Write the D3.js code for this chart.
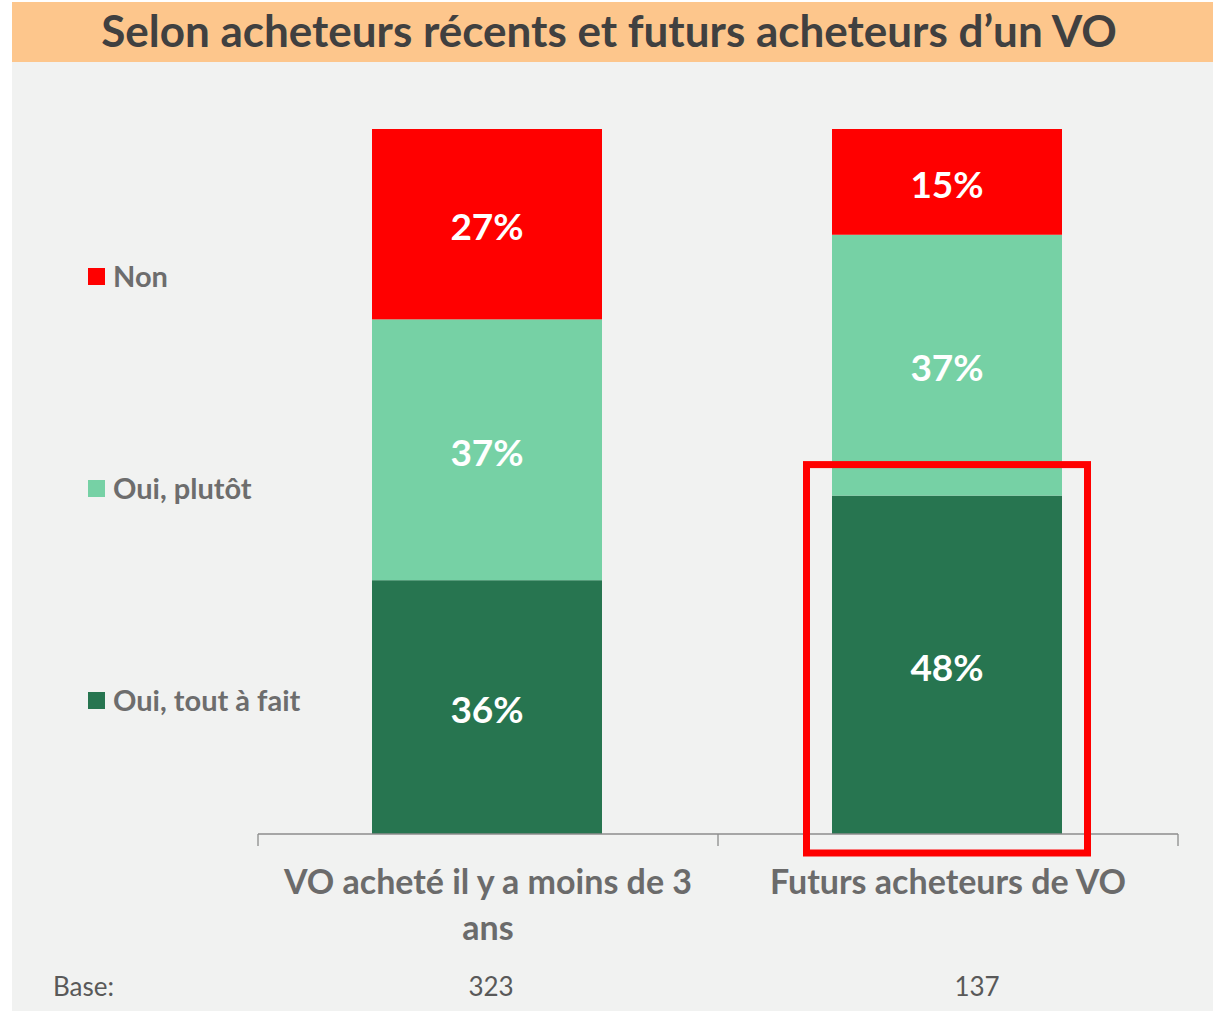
<!DOCTYPE html>
<html>
<head>
<meta charset="utf-8">
<script src="https://cdn.jsdelivr.net/npm/d3@7"></script>
<style>
  body { margin: 0; background: #fff; }
  svg { display: block; font-family: Lato, "Open Sans", sans-serif; }
</style>
</head>
<body>
<svg id="chart" width="1223" height="1011"></svg>
<script>
// data
const title = "Selon acheteurs récents et futurs acheteurs d’un VO";
const categories = ["VO acheté il y a moins de 3 ans", "Futurs acheteurs de VO"];
const categoryLines = [["VO acheté il y a moins de 3", "ans"], ["Futurs acheteurs de VO"]];
const seriesNames = ["Oui, tout à fait", "Oui, plutôt", "Non"];
const toutAFait = [36, 48];
const plutot = [37, 37];
const non = [27, 15];
const bases = [323, 137];
const highlighted = "Futurs acheteurs de VO";

const colors = ["#277550", "#76D1A5", "#FF0000"];

const svg = d3.select("#chart");
const W = 1223, H = 1011;

// panel background + title band
svg.append("rect").attr("x", 12).attr("y", 62).attr("width", 1201).attr("height", H - 62).attr("fill", "#F1F2F1");
svg.append("rect").attr("x", 12).attr("y", 2).attr("width", 1201).attr("height", 60).attr("fill", "#FDC68C");
svg.append("text")
  .attr("x", 609).attr("y", 47)
  .attr("text-anchor", "middle")
  .attr("font-size", 44).attr("font-weight", 700)
  .attr("fill", "#404040")
  .text(title);

const margin = { left: 258, right: 45, top: 129, bottom: 177 };
const x = d3.scaleBand().domain(categories).range([margin.left, W - margin.right]).paddingInner(0.5).paddingOuter(0.25);
const y = d3.scaleLinear().domain([0, 100]).range([H - margin.bottom, margin.top]);

const table = categories.map((c, i) => ({ cat: c, [seriesNames[0]]: toutAFait[i], [seriesNames[1]]: plutot[i], [seriesNames[2]]: non[i] }));
const stack = d3.stack().keys(seriesNames)(table);

const layers = svg.append("g").selectAll("g").data(stack).join("g").attr("fill", (d, i) => colors[i]);
layers.selectAll("rect").data(d => d).join("rect")
  .attr("x", d => x(d.data.cat) - 1)
  .attr("width", x.bandwidth())
  .attr("y", d => y(d[1]))
  .attr("height", d => y(d[0]) - y(d[1]));

layers.selectAll("text").data(d => d.map(v => ({ v, key: d.key }))).join("text")
  .attr("x", d => x(d.v.data.cat) + x.bandwidth() / 2 - 1)
  .attr("y", d => (y(d.v[0]) + y(d.v[1])) / 2 + 16)
  .attr("text-anchor", "middle")
  .attr("font-size", 37).attr("font-weight", 700)
  .attr("fill", "#fff")
  .text(d => (d.v[1] - d.v[0]) + "%");

// x axis with ticks between categories
const axisScale = d3.scaleLinear().domain([0, categories.length]).range([margin.left, W - margin.right]);
const axisG = svg.append("g");
axisG.append("line")
  .attr("x1", axisScale(0)).attr("x2", axisScale(categories.length))
  .attr("y1", y(0)).attr("y2", y(0))
  .attr("stroke", "#8c8c8c").attr("stroke-width", 1.3);
axisG.selectAll(".tk").data(d3.range(categories.length + 1)).join("line")
  .attr("x1", d => axisScale(d)).attr("x2", d => axisScale(d))
  .attr("y1", y(0)).attr("y2", y(0) + 12)
  .attr("stroke", "#8c8c8c").attr("stroke-width", 1.3);

const labels = svg.append("g").selectAll("text").data(categories).join("text")
  .attr("x", d => x(d) + x.bandwidth() / 2)
  .attr("y", y(0) + 60)
  .attr("text-anchor", "middle")
  .attr("font-size", 34).attr("font-weight", 700)
  .attr("fill", "#6b6b6b");
labels.selectAll("tspan").data((d, i) => categoryLines[i]).join("tspan")
  .attr("x", function () { return d3.select(this.parentNode).attr("x"); })
  .attr("dy", (d, i) => i === 0 ? 0 : 46)
  .text(d => d);

// highlight box around the first segment of the highlighted bar
const hi = stack[0].find(d => d.data.cat === highlighted);
svg.append("rect")
  .attr("x", x(highlighted) - 26.5)
  .attr("y", y(hi[1]) - 31)
  .attr("width", x.bandwidth() + 51)
  .attr("height", y(hi[0]) - y(hi[1]) + 50)
  .attr("fill", "none")
  .attr("stroke", "#FF0000")
  .attr("stroke-width", 7);

// legend
const legendY = d3.scalePoint().domain(seriesNames).range([701, 277]);
const legend = svg.append("g").selectAll("g").data(seriesNames).join("g")
  .attr("transform", d => `translate(88,${legendY(d)})`);
legend.append("rect").attr("x", 0).attr("y", -9).attr("width", 17).attr("height", 17).attr("fill", (d, i) => colors[i]);
legend.append("text").attr("x", 25).attr("y", 10)
  .attr("font-size", 29).attr("font-weight", 700).attr("fill", "#6d6d6d")
  .text(d => d);

// base row
const baseX = d3.scalePoint().domain(categories).range([491, 977]);
svg.append("text").attr("x", 53).attr("y", 996).attr("font-size", 26).attr("fill", "#595959").text("Base:");
svg.append("g").selectAll("text").data(categories).join("text")
  .attr("x", d => baseX(d)).attr("y", 996)
  .attr("text-anchor", "middle")
  .attr("font-size", 26).attr("fill", "#595959")
  .text((d, i) => bases[i]);
</script>
</body>
</html>
